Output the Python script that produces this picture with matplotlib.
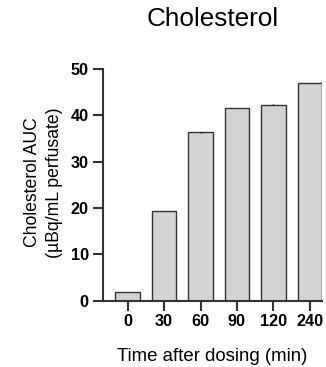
import matplotlib
matplotlib.use('Agg')
import matplotlib.pyplot as plt
import numpy as np

plt.rcParams['font.family'] = ['Liberation Sans', 'DejaVu Sans']

times = ['0', '30', '60', '90', '120', '240']
auc = [1.8, 19.4, 36.3, 41.5, 42.3, 46.9]
err = [0.0, 0.0, 0.2, 0.0, 0.15, 0.0]

fig = plt.figure(figsize=(3.26, 3.67), dpi=100)
ax = fig.add_axes([0.315, 0.181, 0.673, 0.631])

x = np.arange(len(times))
ax.bar(x, auc, width=0.67, color='#d3d3d3', edgecolor='#333333', linewidth=1.0,
       yerr=err, error_kw=dict(ecolor='black', elinewidth=1, capsize=0))

ax.set_xlim(-0.685, 5.335)
ax.set_ylim(0, 50)
ax.set_yticks([0, 10, 20, 30, 40, 50])
ax.set_xticks(x)
ax.set_xticklabels(times)

for s in ['top', 'right']:
    ax.spines[s].set_visible(False)
for s in ['left', 'bottom']:
    ax.spines[s].set_linewidth(1.5)
    ax.spines[s].set_color('#333333')

ax.tick_params(axis='both', width=1.5, length=7, color='#333333', labelsize=11.7, pad=3)
for lab in ax.get_xticklabels() + ax.get_yticklabels():
    lab.set_fontweight('bold')

fig.text(0.652, 0.948, 'Cholesterol', fontsize=18.8, ha='center', va='center')
ax.set_ylabel('Cholesterol AUC\n(µBq/mL perfusate)', fontsize=12.7, linespacing=1.35)
ax.yaxis.set_label_coords(-0.181, 0.51)
ax.set_xlabel('Time after dosing (min)', fontsize=13.4)
ax.xaxis.set_label_coords(0.5, -0.204)

plt.savefig('out.png', dpi=100)
